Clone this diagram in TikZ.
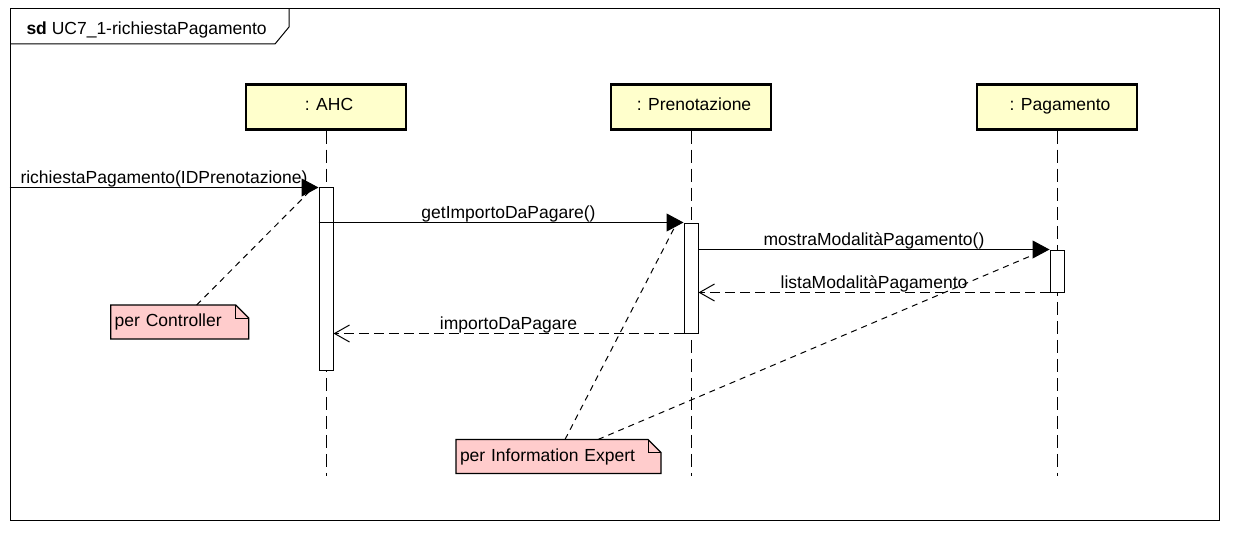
\documentclass[tikz,border=0pt]{standalone}
\usepackage{fontspec}
\setmainfont{Liberation Sans}
\usetikzlibrary{arrows.meta,backgrounds}
\definecolor{headfill}{HTML}{FFFFCC}
\definecolor{notefill}{HTML}{FFCCCC}

\begin{document}
\begin{tikzpicture}[x=1pt,y=-1pt,line width=1pt,font=\fontsize{17.5}{21}\selectfont,
    head/.style={draw,line width=2.5pt,fill=headfill,minimum width=160pt,minimum height=45pt,inner sep=0pt,text depth=6pt,
      execute at begin node=\hspace*{6pt}},
    act/.style={draw,fill=white,minimum width=14pt,inner sep=0pt},
    lifeline/.style={dash pattern=on 13pt off 6pt},
    call/.style={-{Triangle[length=17pt,width=18pt]}},
    reply/.style={dash pattern=on 10pt off 5pt,-{Straight Barb[length=15pt,width=17pt]}},
    msg/.style={midway,anchor=base,yshift=4pt,inner sep=0pt},
    note/.style={anchor=west,inner sep=3.5pt,minimum height=33pt,align=left},
    noteline/.style={dash pattern=on 6pt off 5pt}]
  \useasboundingbox (0,0) rectangle (1241,540);
  \node[draw,minimum width=1209pt,minimum height=511pt,inner sep=0pt] (frame) at (614.5,264.5) {};
  \node[anchor=base west,inner sep=0pt] (title) at (26,35) {\textbf{sd} UC7\_1-richiestaPagamento};
  \draw (10,44) -- (275,44) -- (289,27) -- (289,9);

  \node[head] (ahc) at (326,107) {: AHC};
  \node[head] (pren) at (691,107) {: Prenotazione};
  \node[head] (pag) at (1057,107) {: Pagamento};
  \foreach \n in {ahc,pren,pag}
    \draw[lifeline] (\n.south) -- (\n.south |- 0,476);

  \node[act,minimum height=182pt] (actA) at (326,279) {};
  \node[act,minimum height=110pt] (actP) at (691,278) {};
  \node[act,minimum height=42pt] (actG) at (1057,271) {};

  \coordinate (gate) at (frame.west |- actA.north);
  \draw[call] (gate) -- node[msg]{richiestaPagamento(IDPrenotazione)} (actA.north west);
  \draw[call] (actA.west |- actP.north) -- (actA.east |- actP.north)
    -- node[msg]{getImportoDaPagare()} (actP.north west);
  \draw[call] (actP.east |- actG.north) -- node[msg]{mostraModalitàPagamento()} (actG.north west);
  \draw[reply] (actG.south west) -- node[msg]{listaModalitàPagamento} (actP.east |- actG.south);
  \draw[reply] (actP.south west) -- node[msg]{importoDaPagare} (actA.east |- actP.south);

  % notes
  \node[note,text width=130pt] (noteC) at (110.7,322) {per Controller};
  \node[note,text width=197pt] (noteE) at (456,456.5) {per Information Expert};
  \begin{scope}[on background layer]
    \foreach \n in {noteC,noteE}
      \fill[notefill] (\n.south west) -- (\n.north west) -- ([xshift=-13pt]\n.north east)
        -- ([yshift=-13pt]\n.north east) -- (\n.south east) -- cycle;
  \end{scope}
  \foreach \n in {noteC,noteE} {
    \draw[line width=1.2pt] (\n.south west) -- (\n.north west) -- ([xshift=-13pt]\n.north east)
      -- ([yshift=-13pt]\n.north east) -- (\n.south east) -- cycle;
    \draw ([xshift=-13pt]\n.north east) |- ([yshift=-13pt]\n.north east);
  }
  \draw[noteline] ([xshift=86pt]noteC.north west) -- ([xshift=-8pt,yshift=-3pt]actA.north west);
  \draw[noteline] ([xshift=109pt]noteE.north west) -- ([xshift=-8pt,yshift=-3pt]actP.north west);
  \draw[noteline] ([xshift=142pt]noteE.north west) -- ([xshift=-6pt,yshift=-1pt]actG.north west);
\end{tikzpicture}
\end{document}
